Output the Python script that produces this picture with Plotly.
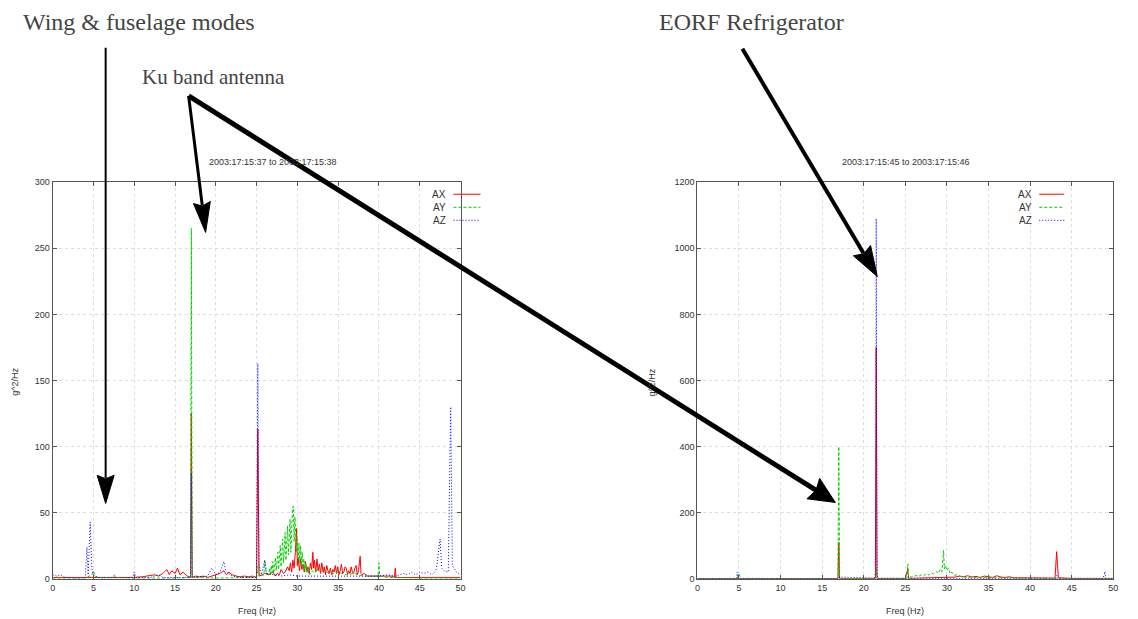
import plotly.graph_objects as go

W, H = 1138, 619

# ---------------- data: left panel (2003:17:15:37 to 2003:17:15:38) ----------------
left_ax_freq = [0, 1, 2, 3, 4, 5, 6, 7, 8, 9, 10, 11, 11.5, 12, 12.5, 13, 13.5, 14, 14.3, 14.6, 15, 15.3, 15.6, 16, 16.5, 16.9, 17, 17.1,
                17.5, 18, 18.5, 19, 19.5, 20, 20.5, 21, 21.3, 21.6, 22, 22.5, 23, 23.5, 24, 24.5, 25, 25.15, 25.3, 25.7, 26, 26.5,
                27, 27.3, 27.5, 27.8, 28, 28.3, 28.5, 28.8, 29, 29.15, 29.3, 29.45, 29.6, 29.75, 29.9, 30.0, 30.1, 30.25, 30.4,
                30.55, 30.7, 30.85, 31, 31.15, 31.3, 31.45, 31.6, 31.75, 31.9, 32.0, 32.1, 32.25, 32.4, 32.55, 32.7, 32.85, 33,
                33.15, 33.3, 33.45, 33.6, 33.75, 33.9, 34.05, 34.2, 34.35, 34.5, 34.65, 34.8, 34.95, 35.1, 35.25, 35.4, 35.55,
                35.7, 35.85, 36, 36.15, 36.3, 36.45, 36.6, 36.75, 36.9, 37.05, 37.2, 37.35, 37.5, 37.6, 37.7, 37.8, 37.9, 38.2,
                38.6, 39, 39.5, 40, 40.5, 41, 41.5, 41.9, 42, 42.1, 43, 44, 45, 46, 47, 48, 49, 50]
left_ax_psd = [1, 1, 0.5, 0.5, 0.8, 1, 0.5, 0.5, 0.5, 0.6, 1, 1.5, 2, 2.5, 3, 2, 4, 7, 3, 6, 4, 8, 3, 5, 2, 1, 125, 1,
               2, 1.5, 2, 1, 2, 3, 4, 6, 3, 5, 3, 2, 1.5, 2, 1.5, 2, 1, 113, 2, 3, 4, 3,
               5, 2, 4, 3, 7, 4, 5, 9, 6, 12, 5, 14, 8, 20, 38, 10, 16, 6, 15,
               7, 11, 5, 13, 6, 9, 4, 12, 7, 20, 8, 14, 5, 15, 6, 11, 4, 12,
               5, 9, 3, 10, 6, 4, 8, 3, 7, 5, 10, 4, 9, 3, 6, 11, 4,
               5, 9, 8, 3, 6, 4, 9, 5, 4, 8, 10, 3, 6, 12, 17, 4, 3, 4,
               2, 2, 2, 1.5, 2, 1.5, 2, 1, 8, 1, 1, 1, 1, 1, 1, 1, 1, 1]

left_ay_freq = [0, 4, 4.8, 5, 5.2, 5.5, 7.3, 7.5, 7.7, 10, 15, 16.9, 17, 17.1, 20, 25, 25.2, 25.4, 25.9, 26, 26.2, 26.5, 26.6,
                26.7, 26.8, 26.9, 27.0, 27.1, 27.2, 27.3, 27.4, 27.5, 27.6, 27.7, 27.8, 27.9, 28.0, 28.1, 28.2, 28.3, 28.4, 28.5,
                28.6, 28.7, 28.8, 28.9, 29.0, 29.1, 29.2, 29.3, 29.4, 29.5, 29.6, 29.7, 29.8, 29.9, 30.0, 30.1, 30.2, 30.3, 30.4,
                30.5, 30.6, 30.7, 30.8, 30.9, 31.0, 31.1, 31.2, 31.3, 31.4, 31.5, 31.8, 32, 32.5, 33, 33.5, 34, 35, 36, 37, 38,
                39, 39.9, 40, 40.1, 41, 45, 50]
left_ay_psd = [0.5, 0.5, 3, 6, 2, 1, 1, 3, 1, 0.5, 0.5, 1, 265, 1, 0.5, 1, 10, 2, 3, 14, 4, 4, 8,
               3, 10, 5, 13, 4, 9, 16, 6, 11, 20, 7, 14, 25, 9, 18, 30, 12, 22, 35,
               14, 26, 40, 18, 33, 45, 20, 38, 52, 55, 28, 47, 35, 20, 30, 15, 27, 12, 25,
               10, 20, 8, 15, 6, 12, 5, 9, 4, 8, 3, 6, 5, 7, 4, 6, 3, 5, 3, 4, 2,
               2, 2, 12, 2, 1, 0.5, 0.5]

left_az_freq = [0, 0.5, 1, 1.5, 2, 3, 4, 4.2, 4.35, 4.6, 4.8, 5, 5.5, 6, 9.8, 10, 10.2, 12, 13, 13.5, 15, 16.9, 17, 17.1, 19,
                19.5, 20, 20.5, 21, 21.2, 21.5, 22, 23, 24, 25, 25.15, 25.3, 25.6, 26, 26.2, 27, 28, 29, 30, 32, 34, 36, 38,
                40, 41, 42, 43, 43.5, 44, 44.5, 45, 45.5, 46, 46.5, 47, 47.5, 47.7, 48, 48.5, 48.8, 49, 49.5, 50]
left_az_psd = [3, 2, 3, 1, 1, 0.5, 1, 24, 3, 43, 8, 3, 1, 0.5, 1, 5, 1, 1, 3, 1, 1, 1, 80, 1, 2,
               8, 3, 5, 13, 6, 4, 2, 1, 1, 1, 163, 10, 3, 14, 4, 3, 2, 3, 2, 2, 2, 2, 2,
               2, 3, 2, 4, 3, 5, 3, 5, 4, 5, 3, 6, 30, 8, 6, 5, 130, 10, 5, 3]

# ---------------- data: right panel (2003:17:15:45 to 2003:17:15:46) ----------------
right_ax_freq = [0, 5, 10, 16.9, 17, 17.1, 21.4, 21.5, 21.6, 25, 25.3, 25.4, 28, 30, 31, 31.5, 32, 32.5, 33, 33.5, 34, 34.5,
                 35, 35.5, 36, 36.5, 37, 37.5, 38, 40, 43, 43.2, 43.3, 43.4, 45, 50]
right_ax_psd = [0.5, 1, 0.5, 0.5, 110, 0.5, 1, 700, 1, 1, 30, 1, 3, 4, 5, 8, 6, 9, 5, 7, 4, 8,
                6, 4, 9, 5, 4, 6, 3, 2, 2, 82, 35, 3, 1, 1]

right_ay_freq = [0, 4.8, 5, 5.2, 16.9, 17, 17.1, 21.4, 21.5, 21.6, 25.2, 25.3, 25.4, 26, 26.3, 26.6, 26.9, 27.2, 27.5, 27.8,
                 28.1, 28.4, 28.7, 29, 29.2, 29.4, 29.6, 29.7, 29.8, 30, 30.2, 30.4, 30.6, 30.9, 31.2, 31.6, 32, 33, 35, 38,
                 40, 50]
right_ay_psd = [0.5, 1, 15, 1, 0.5, 400, 0.5, 1, 30, 1, 1, 45, 5, 6, 10, 7, 12, 9, 15, 11, 18,
                14, 22, 17, 28, 20, 85, 30, 40, 25, 33, 15, 20, 10, 12, 7, 5, 4, 3, 2,
                1, 0.5]

right_az_freq = [0, 4.7, 4.8, 4.9, 16.9, 17, 21.3, 21.45, 21.5, 21.55, 21.6, 21.7, 25, 30, 35, 43.1, 43.2, 43.3, 48.8, 49,
                 49.1, 50]
right_az_psd = [0.5, 1, 20, 1, 0.5, 5, 2, 20, 1090, 420, 12, 1, 1, 2, 1, 1, 10, 1, 1, 22,
                1, 0.5]

series_names = ["AX", "AY", "AZ"]
panel_titles = ["2003:17:15:37 to 2003:17:15:38", "2003:17:15:45 to 2003:17:15:46"]
x_ticks = [0, 5, 10, 15, 20, 25, 30, 35, 40, 45, 50]
left_y_ticks = [0, 50, 100, 150, 200, 250, 300]
right_y_ticks = [0, 200, 400, 600, 800, 1000, 1200]
callouts = ["Wing &amp; fuselage modes", "Ku band antenna", "EORF Refrigerator"]

# ---------------- styling ----------------
colors = ["#ff0000", "#00d000", "#0000ff"]
dashes = ["solid", "3px,2px", "1px,2px"]
NARROW = "Liberation Sans Narrow, Arial Narrow, Liberation Sans, Arial"
SERIF = "Liberation Serif, Times New Roman, serif"

# mapping from target picture pixels to paper fractions (compensates the capture inset)
AX_S, AX_O = 0.9934, 2.3
AY_S, AY_O = 0.98, 6.5


def px(x):
    return ((x - AX_O) / AX_S) / W


def py(y):
    return 1 - ((y - AY_O) / AY_S) / H


left_box = (52, 460, 183, 578)
right_box = (697, 1113, 183, 578)

fig = go.Figure()

panels = [
    ("x", "y", [(left_ax_freq, left_ax_psd), (left_ay_freq, left_ay_psd), (left_az_freq, left_az_psd)]),
    ("x2", "y2", [(right_ax_freq, right_ax_psd), (right_ay_freq, right_ay_psd), (right_az_freq, right_az_psd)]),
]
for xa, ya, data in panels:
    for i, (f, p) in enumerate(data):
        fig.add_trace(go.Scatter(
            x=f, y=p, mode="lines", name=series_names[i], xaxis=xa, yaxis=ya,
            line=dict(color=colors[i], width=1, dash=dashes[i]), showlegend=False,
            hoverinfo="skip"))

axis_common = dict(
    showline=True, linecolor="#555", linewidth=1, mirror="allticks",
    ticks="inside", ticklen=4, tickcolor="#555", tickwidth=1,
    showgrid=True, gridcolor="#dedede", griddash="3px,3px", gridwidth=1,
    zeroline=False, tickfont=dict(family=NARROW, size=9, color="#333"),
    fixedrange=True,
)

fig.update_layout(
    autosize=True,
    margin=dict(l=0, r=0, t=0, b=0),
    paper_bgcolor="white", plot_bgcolor="white",
    xaxis=dict(domain=[px(left_box[0]), px(left_box[1])], range=[0, 50], tickvals=x_ticks, anchor="y", **axis_common),
    yaxis=dict(domain=[py(left_box[3]), py(left_box[2])], range=[0, 300], tickvals=left_y_ticks, anchor="x", **axis_common),
    xaxis2=dict(domain=[px(right_box[0]), px(right_box[1])], range=[0, 50], tickvals=x_ticks, anchor="y2", **axis_common),
    yaxis2=dict(domain=[py(right_box[3]), py(right_box[2])], range=[0, 1200], tickvals=right_y_ticks, anchor="x2", **axis_common),
    showlegend=False,
)

annotations = []
shapes = []

# panel titles, axis titles
for (x0, x1, y0, y1), title, tx, ylab_x in [(left_box, panel_titles[0], 272, 14), (right_box, panel_titles[1], 906, 652)]:
    annotations.append(dict(x=px(tx), y=py(163), xref="paper", yref="paper", text=title, showarrow=False,
                            font=dict(family=NARROW, size=9, color="#333"), xanchor="center", yanchor="middle"))
    annotations.append(dict(x=px((x0 + x1) / 2), y=py(610), xref="paper", yref="paper", text="Freq (Hz)",
                            showarrow=False, font=dict(family=NARROW, size=9, color="#333"),
                            xanchor="center", yanchor="middle"))
    annotations.append(dict(x=px(ylab_x), y=py(382), xref="paper", yref="paper", text="g^2/Hz", textangle=-90,
                            showarrow=False, font=dict(family=NARROW, size=9, color="#333"),
                            xanchor="center", yanchor="middle"))

# manual gnuplot-style legends (text right, sample line on the right)
for text_right, line_x0, line_x1 in [(447, 453, 480), (1034, 1039, 1064)]:
    for i, name in enumerate(series_names):
        yy = [195, 208, 221][i]
        annotations.append(dict(x=px(text_right), y=py(yy), xref="paper", yref="paper", text=name, showarrow=False,
                                font=dict(family=NARROW, size=10, color="#333"), xanchor="right", yanchor="middle"))
        shapes.append(dict(type="line", xref="paper", yref="paper", x0=px(line_x0), x1=px(line_x1),
                           y0=py(yy), y1=py(yy), line=dict(color=colors[i], width=1, dash=dashes[i])))

# callout texts
for text, xl, yc, fs in [(callouts[0], 20, 23, 24), (callouts[1], 139, 78, 21), (callouts[2], 657, 23, 24)]:
    annotations.append(dict(x=px(xl), y=py(yc), xref="paper", yref="paper", text=text, showarrow=False,
                            font=dict(family=SERIF, size=fs, color="#444"), xanchor="left", yanchor="middle"))


def arrow(tail, tip, width, head_len, head_half):
    (x0, y0), (x1, y1) = tail, tip
    dx, dy = x1 - x0, y1 - y0
    n = (dx * dx + dy * dy) ** 0.5
    ux, uy = dx / n, dy / n
    nx, ny = -uy, ux
    bx, by = x1 - ux * head_len, y1 - uy * head_len
    shapes.append(dict(type="line", xref="paper", yref="paper", x0=px(x0), y0=py(y0),
                       x1=px(bx + ux * 3), y1=py(by + uy * 3), line=dict(color="black", width=width)))
    pts = [(x1, y1), (bx + nx * head_half, by + ny * head_half),
           (bx + ux * head_len * 0.12, by + uy * head_len * 0.12), (bx - nx * head_half, by - ny * head_half)]
    path = "M " + " L ".join(f"{px(a):.6f},{py(b):.6f}" for a, b in pts) + " Z"
    shapes.append(dict(type="path", xref="paper", yref="paper", path=path, fillcolor="black",
                       line=dict(color="black", width=1)))


arrow((105, 49), (105, 503), 2, 28, 8.5)
arrow((188, 97), (205, 233), 3, 30, 8.5)
arrow((188, 97), (835, 502), 5, 26, 12)
arrow((742, 50), (877, 277), 4, 30, 10)

fig.update_layout(annotations=annotations, shapes=shapes)

post = ("document.documentElement.style.margin='0';document.documentElement.style.overflow='hidden';"
        "document.body.style.margin='0';document.body.style.overflow='hidden';"
        "var gd=document.getElementById('{plot_id}');gd.style.width='100vw';gd.style.height='100vh';"
        "Plotly.Plots.resize(gd);")
fig.write_html("out.html", default_width="100vw", default_height="100vh",
               config={"displayModeBar": False, "responsive": True}, post_script=post)
